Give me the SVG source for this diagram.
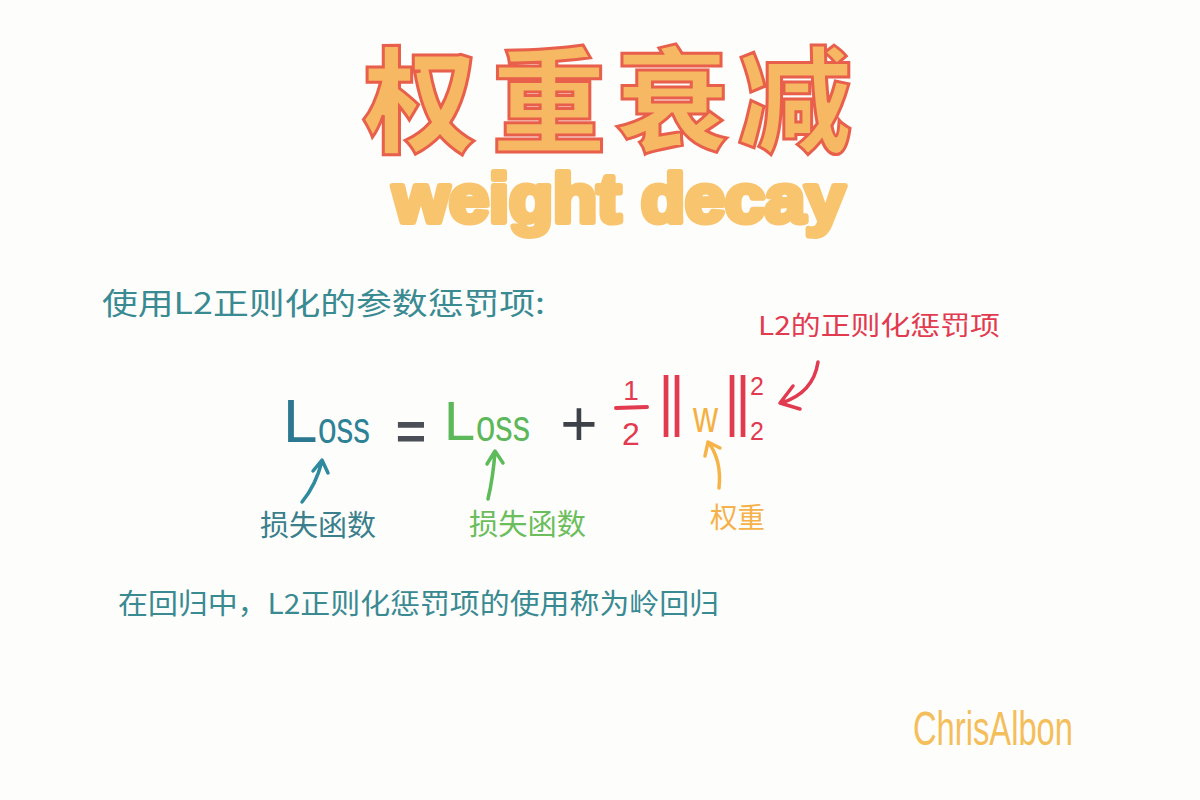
<svg xmlns="http://www.w3.org/2000/svg" width="1200" height="800" viewBox="0 0 1200 800">
<style>
.cjk{font-family:"Noto Sans CJK SC","Noto Sans",sans-serif;font-weight:400;}
.lat{font-family:"Liberation Sans","DejaVu Sans",sans-serif;}
.title{font-family:"Noto Sans CJK SC",sans-serif;font-weight:900;font-size:114px;fill:#F6B862;stroke:#E8604C;stroke-width:3;text-anchor:middle;}
.sub{font-family:"Liberation Sans","Noto Sans",sans-serif;font-weight:900;fill:#F8C56E;stroke:#F8C56E;stroke-width:6;stroke-linejoin:round;}
.teal{fill:#3A8A92;}
.red{fill:#E23A4F;}
.bar{font-family:"Liberation Sans","DejaVu Sans",sans-serif;font-size:58px;fill:#E23A4F;letter-spacing:-4px;}
.arr{fill:none;stroke-width:3.5;stroke-linecap:round;stroke-linejoin:round;}
</style>
<rect width="1200" height="800" fill="#FDFDFC"/>
<g id="title">
<text class="title" x="420" y="143">权</text>
<text class="title" x="549" y="143">重</text>
<text class="title" x="672" y="143">衰</text>
<text class="title" x="795" y="143">减</text>
</g>
<g id="subtitle">
<text class="sub" x="393" y="222" font-size="68" textLength="452" lengthAdjust="spacingAndGlyphs">weight decay</text>
</g>
<g id="intro">
<text class="cjk teal" x="102" y="314" font-size="30" textLength="443" lengthAdjust="spacingAndGlyphs">使用L2正则化的参数惩罚项:</text>
</g>
<g id="formula">
<text class="lat" x="283" y="442" font-size="62" fill="#2C7890">L</text>
<text class="lat" x="318" y="443" font-size="44" fill="#2E8296" textLength="52" lengthAdjust="spacingAndGlyphs">oss</text>
<text class="lat" x="411" y="449" font-size="52" font-weight="bold" fill="#4A4E57" text-anchor="middle">=</text>
<text class="lat" x="444" y="440" font-size="56" fill="#5CB85A">L</text>
<text class="lat" x="476" y="441" font-size="44" fill="#5CB85A" textLength="54" lengthAdjust="spacingAndGlyphs">oss</text>
<text class="lat" x="579" y="446" font-size="64" fill="#3D4148" text-anchor="middle">+</text>
<text class="lat red" x="631" y="400" font-size="28" text-anchor="middle">1</text>
<line x1="616" y1="408" x2="647" y2="407" stroke="#E23A4F" stroke-width="4" stroke-linecap="round"/>
<text class="lat red" x="631" y="445" font-size="32" text-anchor="middle">2</text>
<text class="bar" transform="translate(658.5,423) scale(1,1.15)">||</text>
<text class="lat" x="693" y="432" font-size="44" fill="#F5B041" textLength="25" lengthAdjust="spacingAndGlyphs">w</text>
<text class="bar" transform="translate(724.5,423) scale(1,1.15)">||</text>
<text class="lat red" x="750" y="395" font-size="25">2</text>
<text class="lat red" x="750" y="440" font-size="25">2</text>
</g>
<g id="penalty-label">
<text class="cjk red" x="758" y="335" font-size="26" textLength="242" lengthAdjust="spacingAndGlyphs">L2的正则化惩罚项</text>
</g>
<g id="loss-label-1">
<text class="cjk" x="260" y="536" font-size="29" fill="#3A7F8B" textLength="116" lengthAdjust="spacingAndGlyphs">损失函数</text>
</g>
<g id="loss-label-2">
<text class="cjk" x="469" y="535" font-size="29" fill="#6BBE5B" textLength="117" lengthAdjust="spacingAndGlyphs">损失函数</text>
</g>
<g id="weight-label">
<text class="cjk" x="710" y="528" font-size="28" fill="#F6B24A" textLength="55" lengthAdjust="spacingAndGlyphs">权重</text>
</g>
<g id="connectors">
<path class="arr" stroke="#E23A4F" d="M818 362 C815 382 804 396 781 403 M793 386 L780 403 L800 409"/>
<path class="arr" stroke="#2E8A9E" d="M302 502 Q316 485 322 461 M313 471 L322 460 L328 473"/>
<path class="arr" stroke="#5DBB5A" d="M488 499 Q493 478 495 452 M487 464 L495 451 L503 463"/>
<path class="arr" stroke="#F5B348" d="M719 488 Q722 460 708 442 M705 456 L708 442 L720 448"/>
</g>
<g id="ridge-note">
<text class="cjk teal" x="118" y="614" font-size="28" textLength="601" lengthAdjust="spacingAndGlyphs">在回归中，L2正则化惩罚项的使用称为岭回归</text>
</g>
<g id="signature">
<text class="lat" x="913" y="745" font-size="48" fill="#F4BE5A" textLength="160" lengthAdjust="spacingAndGlyphs">ChrisAlbon</text>
</g>
</svg>
